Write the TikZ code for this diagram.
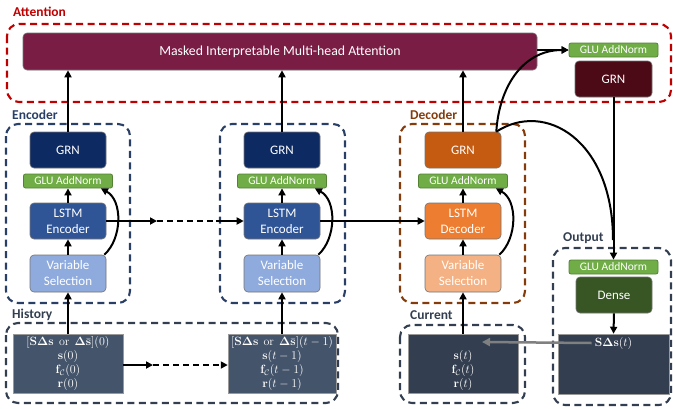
\documentclass[tikz,border=0pt]{standalone}
\usepackage[no-math]{fontspec}
\setmainfont{Carlito}
\usepackage{amsmath}
\usetikzlibrary{arrows.meta}
\definecolor{attred}{HTML}{C00000}
\definecolor{maskc}{HTML}{7A1D45}
\definecolor{grnR}{HTML}{4C0A16}
\definecolor{gluf}{HTML}{70AD47}
\definecolor{glud}{HTML}{548235}
\definecolor{encgrn}{HTML}{0D2A63}
\definecolor{enclstm}{HTML}{2F5597}
\definecolor{encvs}{HTML}{8FAADC}
\definecolor{decgrn}{HTML}{C55A11}
\definecolor{declstm}{HTML}{ED7D31}
\definecolor{decvs}{HTML}{F4B183}
\definecolor{densec}{HTML}{375623}
\definecolor{histin}{HTML}{44546A}
\definecolor{curin}{HTML}{333F50}
\definecolor{encdash}{HTML}{2A3F66}
\definecolor{decdash}{HTML}{843C0C}
\definecolor{grydash}{HTML}{333F50}
\definecolor{grayarrow}{HTML}{808080}
\tikzset{
  blk/.style={rounded corners=4pt, draw=black!55, line width=0.6pt, text=white, align=center,
    inner sep=0pt, minimum width=76pt, minimum height=36pt, font=\fontsize{13}{16}\selectfont},
  glubox/.style={rounded corners=2pt, draw=glud, fill=gluf, line width=0.8pt, text=white,
    inner sep=0pt, minimum width=89pt, minimum height=14pt, font=\fontsize{11.5}{12}\selectfont},
  inbox/.style={draw=black!40, line width=0.5pt, text=white, align=center, inner sep=0pt,
    minimum height=59pt, font=\fontsize{11.5}{14}\selectfont},
  dbox/.style={rounded corners=12pt, line width=2.1pt, dash pattern=on 7pt off 4.5pt},
  grplabel/.style={anchor=west, font=\bfseries\fontsize{13.5}{15}\selectfont, inner sep=0pt},
  arr/.style={-{Triangle[length=7pt,width=7pt]}, line width=2pt},
  plainline/.style={line width=2pt},
  dashline/.style={line width=2pt, dash pattern=on 6pt off 4pt},
  grayarr/.style={-{Triangle[length=8pt,width=8pt]}, line width=2.5pt, draw=grayarrow},
}
\begin{document}
\begin{tikzpicture}[x=1pt,y=-1pt]
\useasboundingbox (0,0) rectangle (673,408);

% group frames
\draw[dbox, draw=attred] (7,24) rectangle (671,102);
\node[grplabel, text=attred] (lattn) at (13,12) {Attention};
\draw[dbox, draw=encdash] (6,124) rectangle (130,303);
\draw[dbox, draw=encdash] (220,124) rectangle (345,303);
\node[grplabel, text=encdash] (lenc) at (12,115) {Encoder};
\draw[dbox, draw=decdash] (400,124) rectangle (525,303);
\node[grplabel, text=decdash] (ldec) at (410,115) {Decoder};
\draw[dbox, draw=grydash] (553,248) rectangle (671,405);
\node[grplabel, text=grydash] (lout) at (563,238) {Output};
\draw[dbox, draw=grydash] (6,323) rectangle (338,403);
\node[grplabel, text=grydash] (lhist) at (12,315) {History};
\draw[dbox, draw=grydash] (400,325) rectangle (525,403);
\node[grplabel, text=grydash] (lcur) at (410,315) {Current};

% attention
\node[blk, fill=maskc, minimum width=514pt, minimum height=37pt, font=\fontsize{13.8}{15}\selectfont] (mask) at (280,51.5) {Masked Interpretable Multi-head Attention};
\node[glubox] (gluR) at (613.5,50) {GLU AddNorm};
\node[blk, fill=grnR, minimum width=77pt] (grnR) at (613.5,79) {GRN};

% encoder column 1
\node[blk, fill=encgrn] (grn1) at (68,150) {GRN};
\node[glubox] (glu1) at (68,181) {GLU AddNorm};
\node[blk, fill=enclstm] (lstm1) at (68,221) {LSTM\\Encoder};
\node[blk, fill=encvs, minimum height=37pt] (vs1) at (68,273.5) {Variable\\Selection};
% encoder column 2
\node[blk, fill=encgrn] (grn2) at (282,150) {GRN};
\node[glubox] (glu2) at (282,181) {GLU AddNorm};
\node[blk, fill=enclstm] (lstm2) at (282,221) {LSTM\\Encoder};
\node[blk, fill=encvs, minimum height=37pt] (vs2) at (282,273.5) {Variable\\Selection};
% decoder
\node[blk, fill=decgrn] (grn3) at (463,150) {GRN};
\node[glubox] (glu3) at (463,181) {GLU AddNorm};
\node[blk, fill=declstm] (lstm3) at (463,221) {LSTM\\Decoder};
\node[blk, fill=decvs, minimum height=37pt] (vs3) at (463,273.5) {Variable\\Selection};
% output
\node[glubox] (gluO) at (613.5,267) {GLU AddNorm};
\node[blk, fill=densec] (dense) at (614,295) {Dense};

% inputs
\node[inbox, fill=histin, minimum width=110pt] (in1) at (68,363.5)
  {$[\mathbf{S}\mathbf{\Delta}\mathbf{s}\ \ \mathrm{or}\ \ \mathbf{\Delta}\bar{\mathbf{s}}](0)$\\
   $\mathbf{s}(0)$\\ $\mathbf{f}_{\mathcal{C}}(0)$\\ $\mathbf{r}(0)$};
\node[inbox, fill=histin, minimum width=108pt] (in2) at (282,363.5)
  {$[\mathbf{S}\mathbf{\Delta}\mathbf{s}\ \ \mathrm{or}\ \ \mathbf{\Delta}\bar{\mathbf{s}}](t-1)$\\
   $\mathbf{s}(t-1)$\\ $\mathbf{f}_{\mathcal{C}}(t-1)$\\ $\mathbf{r}(t-1)$};
\node[inbox, fill=curin, minimum width=110pt] (cur) at (463,363.5)
  {\strut\\ $\mathbf{s}(t)$\\ $\mathbf{f}_{\mathcal{C}}(t)$\\ $\mathbf{r}(t)$};
\node[inbox, fill=curin, minimum width=111pt, minimum height=60pt] (out) at (613.5,364) {};
\node[text=white, inner sep=1pt, font=\fontsize{11.5}{13}\selectfont] (outtxt) at (613.5,343) {$\mathbf{S}\mathbf{\Delta}\mathbf{s}(t)$};

% vertical flows
\foreach \c/\i in {1/in1,2/in2,3/cur}{
  \draw[arr] (\i.north) -- (vs\c.south);
  \draw[arr] (vs\c.north) -- (lstm\c.south);
  \draw[arr] (lstm\c.north) -- (glu\c.south);
  \draw[arr] (grn\c.north) -- (grn\c.north |- mask.south);
  \draw[arr] ([xshift=-2pt]vs\c.north east) .. controls +(18,-16) and +(22,12) .. ([xshift=-12pt]glu\c.south east);
}

% horizontal encoder chain
\coordinate (e1) at (157,221);
\coordinate (e2) at (216,221);
\draw[arr] (lstm1.east) -- (e1);
\draw[dashline] (e1) -- (e2);
\draw[arr] (e2) -- (lstm2.west);
\draw[arr] (lstm2.east) -- (lstm3.west);

% history chain
\coordinate (h1) at (153,365);
\draw[arr] (in1.east |- h1) -- (h1);
\draw[dashline, -{Triangle[length=7pt,width=7pt]}] (h1) -- (in2.west |- h1);

% attention / output links
\draw[arr] (mask.east |- gluR.west) -- (gluR.west);
\draw[arr] ([xshift=-5pt]grn3.north east) .. controls (499,88) and (522,50) .. (gluR.west);
\draw[arr] (grnR.south) -- (gluO.north);
\draw[plainline] ([xshift=-5pt]grn3.north east) .. controls (545,100) and (613,140) .. (613,240);
\draw[arr] (dense.south) -- (out.north);

% feedback
\coordinate (gtip) at (482,342);
\draw[grayarr] ([xshift=-2pt]outtxt.west) -- (gtip);
\end{tikzpicture}
\end{document}
